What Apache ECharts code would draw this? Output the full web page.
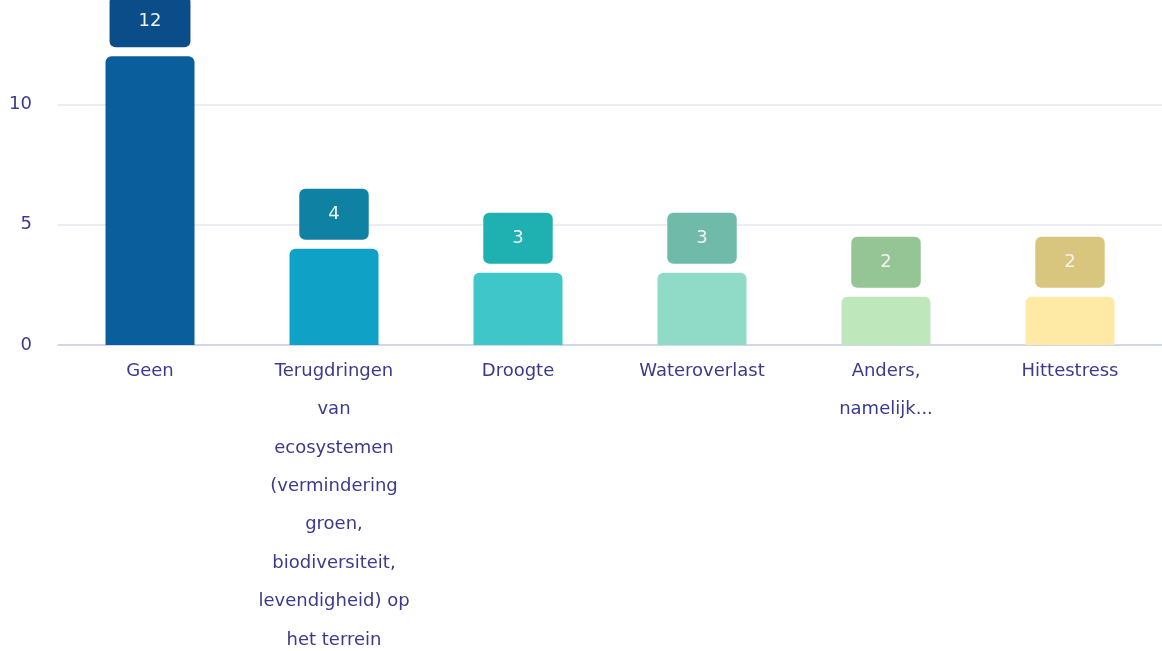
<!DOCTYPE html>
<html>
<head>
<meta charset="utf-8">
<script src="https://cdn.jsdelivr.net/npm/echarts@6/dist/echarts.min.js"></script>
<style>
    html, body { margin: 0; padding: 0; background: #fff; }
    #chart { width: 1162px; height: 651px; }
</style>
</head>
<body>
<div id="chart"></div>
<script>
// categorieën en aantallen
var categories = [
    "Geen",
    "Terugdringen\nvan\necosystemen\n(vermindering\ngroen,\nbiodiversiteit,\nlevendigheid) op\nhet terrein",
    "Droogte",
    "Wateroverlast",
    "Anders,\nnamelijk...",
    "Hittestress"
];
var counts = [12, 4, 3, 3, 2, 2];
var yTicks = [0, 5, 10, 15];

// kleuren per balk en bijbehorend label
var barColors = ["#0b5e9c", "#0fa2c6", "#3ec6c9", "#8fdbc8", "#bee8bb", "#feeaa4"];
var labelColors = ["#0b4d89", "#0f82a3", "#1fb1b2", "#70baa9", "#95c594", "#d9c67e"];

var textColor = "#3c3a8c";
var font = "DejaVu Sans";

var myChart = echarts.init(document.getElementById("chart"));

var seriesData = counts.map(function(v, i) {
    return {
        value: v,
        itemStyle: { color: barColors[i] },
        label: { backgroundColor: labelColors[i] }
    };
});

var option = {
    animation: false,
    grid: {
        left: 58,
        right: 0,
        top: -16,
        bottom: 306,
        outerBoundsMode: "none"
    },
    xAxis: {
        type: "category",
        data: categories,
        axisTick: { show: false },
        axisLine: { lineStyle: { color: "#c9cdea", width: 1.5 } },
        axisLabel: {
            color: textColor,
            fontFamily: font,
            fontSize: 18,
            lineHeight: 38.4,
            margin: 7,
            interval: 0
        }
    },
    yAxis: {
        type: "value",
        min: yTicks[0],
        max: yTicks[yTicks.length - 1],
        interval: yTicks[1] - yTicks[0],
        axisLine: { show: false },
        axisTick: { show: false },
        splitLine: { lineStyle: { color: "#e6e6ef", width: 1.5 } },
        axisLabel: {
            color: textColor,
            fontFamily: font,
            fontSize: 18,
            margin: 26,
            showMaxLabel: false
        }
    },
    series: [{
        type: "bar",
        data: seriesData,
        barWidth: 89,
        itemStyle: { borderRadius: [6, 6, 0, 0] },
        label: {
            show: true,
            position: "top",
            distance: 9,
            color: "#f2f2f2",
            fontFamily: font,
            fontSize: 18,
            lineHeight: 18,
            padding: [16.5, 29],
            borderRadius: 6
        }
    }]
};

myChart.setOption(option);
</script>
</body>
</html>
